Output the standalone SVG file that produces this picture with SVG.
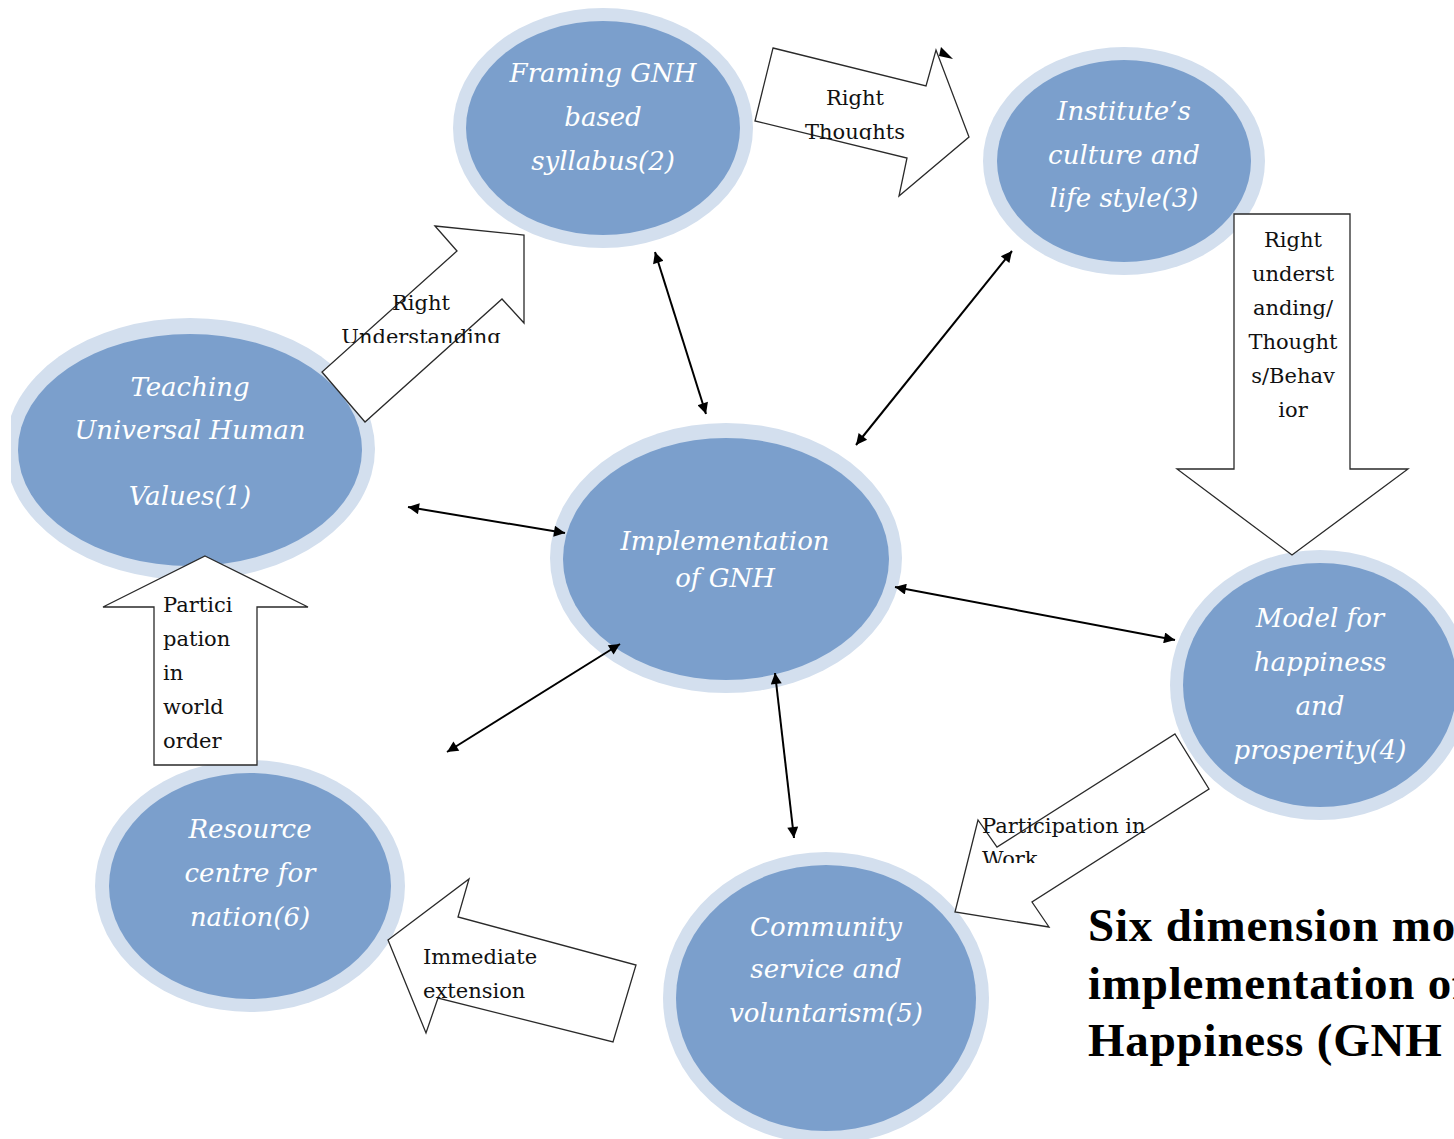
<svg xmlns="http://www.w3.org/2000/svg" width="1454" height="1139" viewBox="0 0 1454 1139">
<style>
.ring{fill:#d3dfee}
.core{fill:#7b9fcc}
.nt{font-family:"DejaVu Serif",serif;font-style:italic;font-size:26px;fill:#ffffff;text-anchor:middle}
.blk{fill:#ffffff;stroke:#2a2a2a;stroke-width:1.3;stroke-linejoin:miter}
.lb{font-family:"DejaVu Serif",serif;font-size:21px;fill:#111111}
.lbc{text-anchor:middle}
.con{stroke:#000;stroke-width:2;fill:none;marker-start:url(#ah);marker-end:url(#ah)}
.title{font-family:"Liberation Serif",serif;font-weight:bold;font-size:47px;letter-spacing:0.8px;fill:#000}
</style>
<defs>
<marker id="ah" viewBox="0 0 10 10" refX="10" refY="5" markerWidth="15" markerHeight="11" markerUnits="userSpaceOnUse" orient="auto-start-reverse">
<path d="M0,0 L10,5 L0,10 z" fill="#000"/>
</marker>
<clipPath id="clipLeft"><rect x="11" y="0" width="1443" height="1139"/></clipPath>
<clipPath id="clipRU"><rect x="300" y="280" width="230" height="63"/></clipPath>
<clipPath id="clipRT"><rect x="780" y="75" width="160" height="65"/></clipPath>
<clipPath id="clipPW"><rect x="960" y="805" width="220" height="58"/></clipPath>
</defs>
<rect width="1454" height="1139" fill="#ffffff"/>

<g id="node-teaching" clip-path="url(#clipLeft)">
<ellipse class="ring" cx="190" cy="449" rx="185" ry="131"/>
<ellipse class="core" cx="190" cy="450" rx="172" ry="116"/>
<text class="nt" x="190" y="396">Teaching</text>
<text class="nt" x="190" y="439">Universal Human</text>
<text class="nt" x="190" y="505">Values(1)</text>
</g>

<g id="node-framing">
<ellipse class="ring" cx="603" cy="128" rx="150" ry="120"/>
<ellipse class="core" cx="603" cy="128" rx="137" ry="107"/>
<text class="nt" x="603" y="82">Framing GNH</text>
<text class="nt" x="603" y="126">based</text>
<text class="nt" x="603" y="170">syllabus(2)</text>
</g>

<g id="node-institute">
<ellipse class="ring" cx="1124" cy="161" rx="141" ry="114"/>
<ellipse class="core" cx="1124" cy="161" rx="127" ry="101"/>
<text class="nt" x="1124" y="120">Institute’s</text>
<text class="nt" x="1124" y="164">culture and</text>
<text class="nt" x="1124" y="207">life style(3)</text>
</g>

<g id="node-model">
<ellipse class="ring" cx="1320" cy="685" rx="150" ry="135"/>
<ellipse class="core" cx="1320" cy="685" rx="137" ry="122"/>
<text class="nt" x="1320" y="627">Model for</text>
<text class="nt" x="1320" y="671">happiness</text>
<text class="nt" x="1320" y="715">and</text>
<text class="nt" x="1320" y="759">prosperity(4)</text>
</g>

<g id="node-community">
<ellipse class="ring" cx="826" cy="998" rx="163" ry="146"/>
<ellipse class="core" cx="826" cy="998" rx="150" ry="133"/>
<text class="nt" x="826" y="936">Community</text>
<text class="nt" x="826" y="978">service and</text>
<text class="nt" x="826" y="1022">voluntarism(5)</text>
</g>

<g id="node-resource">
<ellipse class="ring" cx="250" cy="886" rx="155" ry="126"/>
<ellipse class="core" cx="250" cy="886" rx="141" ry="113"/>
<text class="nt" x="250" y="838">Resource</text>
<text class="nt" x="250" y="882">centre for</text>
<text class="nt" x="250" y="926">nation(6)</text>
</g>

<g id="node-implementation">
<ellipse class="ring" cx="726" cy="558" rx="176" ry="135"/>
<ellipse class="core" cx="726" cy="559" rx="163" ry="121"/>
<text class="nt" x="725" y="550">Implementation</text>
<text class="nt" x="725" y="587">of GNH</text>
</g>

<g id="connectors">
<line class="con" x1="655" y1="252" x2="706" y2="414"/>
<line class="con" x1="1012" y1="251" x2="856" y2="445"/>
<line class="con" x1="408" y1="507" x2="565" y2="533"/>
<line class="con" x1="895" y1="587" x2="1175" y2="640"/>
<line class="con" x1="447" y1="752" x2="620" y2="644"/>
<line class="con" x1="775" y1="673" x2="794" y2="838"/>
<polygon points="941,47 953,59 939,56" fill="#000"/>

<g id="arrow-right-understanding">
<polygon class="blk" points="435,226 524,235 524,323 502,299 365,422 322,372 457,251"/>
<g clip-path="url(#clipRU)">
<text class="lb lbc" x="421" y="310">Right</text>
<text class="lb lbc" x="421" y="344">Understanding</text>
</g>
</g>

<g id="arrow-right-thoughts">
<polygon class="blk" points="773,48 926,86 936,50 969,137 899,196 907,158 755,121"/>
<g clip-path="url(#clipRT)">
<text class="lb lbc" x="855" y="105">Right</text>
<text class="lb lbc" x="855" y="139">Thoughts</text>
</g>
</g>

<g id="arrow-right-understanding-behavior">
<polygon class="blk" points="1234,214 1350,214 1350,469 1408,469 1292,555 1177,469 1234,469"/>
<text class="lb lbc" x="1293" y="247">Right</text>
<text class="lb lbc" x="1293" y="281">underst</text>
<text class="lb lbc" x="1293" y="315">anding/</text>
<text class="lb lbc" x="1293" y="349">Thought</text>
<text class="lb lbc" x="1293" y="383">s/Behav</text>
<text class="lb lbc" x="1293" y="417">ior</text>
</g>

<g id="arrow-participation-work">
<polygon class="blk" points="1175,734 1209,789 1032,902 1049,927 955,912 978,820 997,847"/>
<g clip-path="url(#clipPW)">
<text class="lb" x="982" y="833">Participation in</text>
<text class="lb" x="982" y="866">Work</text>
</g>
</g>

<g id="arrow-immediate-extension">
<polygon class="blk" points="388,940 469,879 458,917 636,965 613,1042 438,998 426,1033"/>
<text class="lb" x="423" y="964">Immediate</text>
<text class="lb" x="423" y="998">extension</text>
</g>

<g id="arrow-participation-world">
<polygon class="blk" points="205,556 308,607 257,607 257,765 154,765 154,607 103,607"/>
<text class="lb" x="163" y="612">Partici</text>
<text class="lb" x="163" y="646">pation</text>
<text class="lb" x="163" y="680">in</text>
<text class="lb" x="163" y="714">world</text>
<text class="lb" x="163" y="748">order</text>
</g>
</g>

<g id="title">
<text class="title" x="1088" y="941">Six dimension mo</text>
<text class="title" x="1088" y="999">implementation of</text>
<text class="title" x="1088" y="1056">Happiness (GNH</text>
</g>
</svg>
